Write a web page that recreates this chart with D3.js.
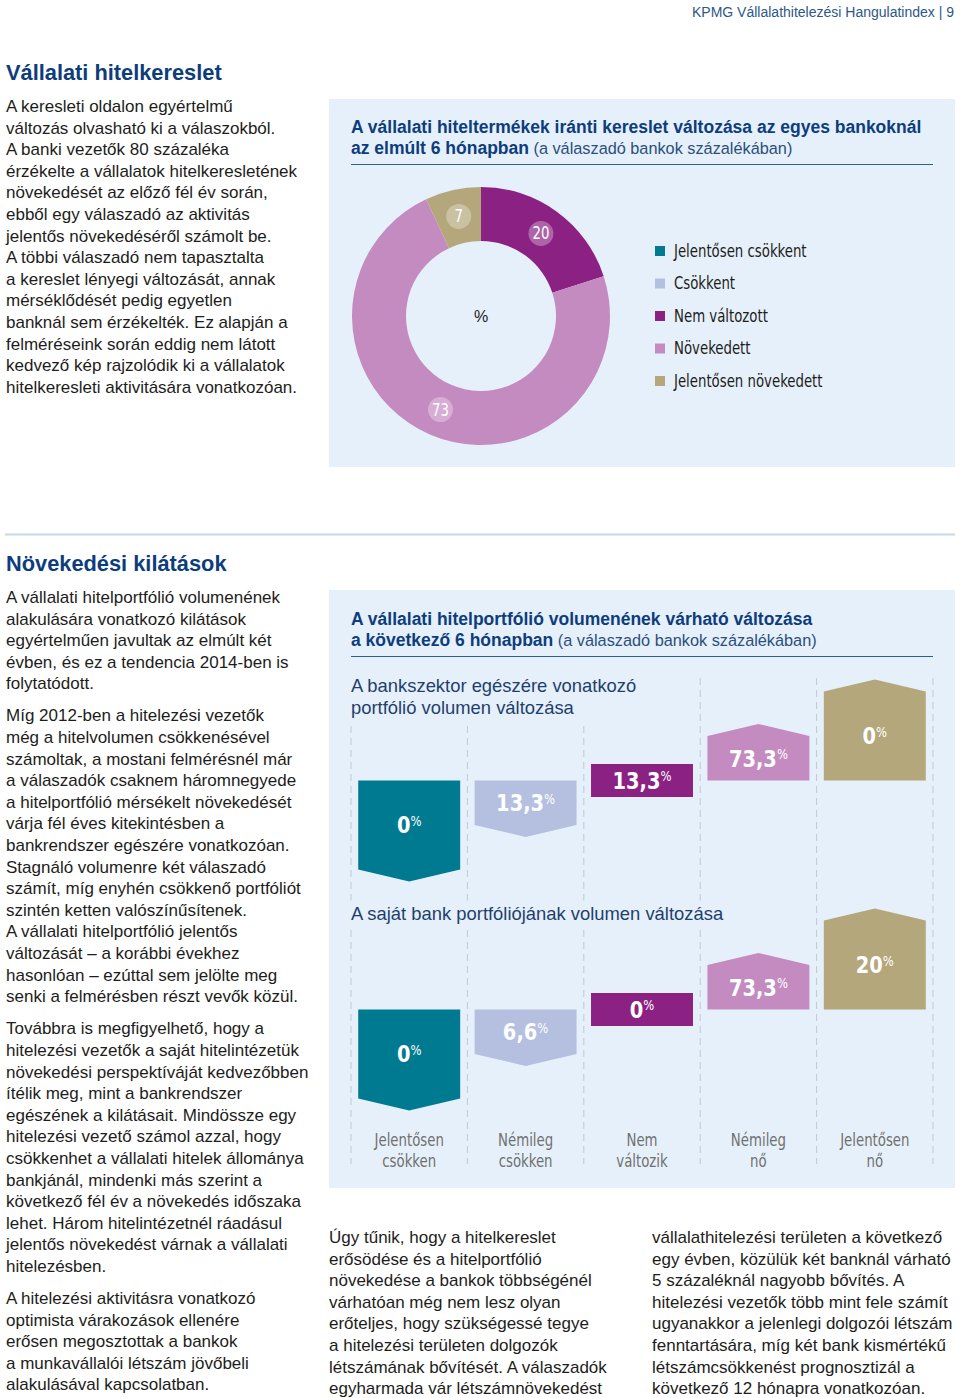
<!DOCTYPE html>
<html><head><meta charset="utf-8">
<script src="https://cdn.jsdelivr.net/npm/d3@7"></script>
<style>
html,body{margin:0;padding:0;background:#fff;}
svg{display:block;}
.body{font-family:"Liberation Sans",Arial,sans-serif;font-size:17px;fill:#1d1d1b;}
.cond{font-family:"Liberation Sans Narrow","DejaVu Sans Condensed","Liberation Sans",sans-serif;font-stretch:condensed;}
</style></head>
<body>
<svg id="c" width="960" height="1398"></svg>
<script>
// ---------- DATA ----------
const donutCategories = ["Jelentősen csökkent","Csökkent","Nem változott","Növekedett","Jelentősen növekedett"];
const donutValues = [0,0,20,73,7];
const barCategories = ["Jelentősen csökken","Némileg csökken","Nem változik","Némileg nő","Jelentősen nő"];
const barLabelLines = [["Jelentősen","csökken"],["Némileg","csökken"],["Nem","változik"],["Némileg","nő"],["Jelentősen","nő"]];
const changeLevel = [-2,-1,0,1,2];
const sectorValues = ["0","13,3","13,3","73,3","0"];
const ownBankValues = ["0","6,6","0","73,3","20"];
const colors = ["#007a91","#b5bfe0","#8b2283","#c48bc0","#b4a77c"];

const para1 = ["A keresleti oldalon egyértelmű","változás olvasható ki a válaszokból.","A banki vezetők 80 százaléka","érzékelte a vállalatok hitelkeresletének","növekedését az előző fél év során,","ebből egy válaszadó az aktivitás","jelentős növekedéséről számolt be.","A többi válaszadó nem tapasztalta","a kereslet lényegi változását, annak","mérséklődését pedig egyetlen","banknál sem érzékelték. Ez alapján a","felméréseink során eddig nem látott","kedvező kép rajzolódik ki a vállalatok","hitelkeresleti aktivitására vonatkozóan."];
const paras2 = [
 ["A vállalati hitelportfólió volumenének","alakulására vonatkozó kilátások","egyértelműen javultak az elmúlt két","évben, és ez a tendencia 2014-ben is","folytatódott."],
 ["Míg 2012-ben a hitelezési vezetők","még a hitelvolumen csökkenésével","számoltak, a mostani felmérésnél már","a válaszadók csaknem háromnegyede","a hitelportfólió mérsékelt növekedését","várja fél éves kitekintésben a","bankrendszer egészére vonatkozóan.","Stagnáló volumenre két válaszadó","számít, míg enyhén csökkenő portfóliót","szintén ketten valószínűsítenek.","A vállalati hitelportfólió jelentős","változását – a korábbi évekhez","hasonlóan – ezúttal sem jelölte meg","senki a felmérésben részt vevők közül."],
 ["Továbbra is megfigyelhető, hogy a","hitelezési vezetők a saját hitelintézetük","növekedési perspektíváját kedvezőbben","ítélik meg, mint a bankrendszer","egészének a kilátásait. Mindössze egy","hitelezési vezető számol azzal, hogy","csökkenhet a vállalati hitelek állománya","bankjánál, mindenki más szerint a","következő fél év a növekedés időszaka","lehet. Három hitelintézetnél ráadásul","jelentős növekedést várnak a vállalati","hitelezésben."],
 ["A hitelezési aktivitásra vonatkozó","optimista várakozások ellenére","erősen megosztottak a bankok","a munkavállalói létszám jövőbeli","alakulásával kapcsolatban."]
];
const colA = ["Úgy tűnik, hogy a hitelkereslet","erősödése és a hitelportfólió","növekedése a bankok többségénél","várhatóan még nem lesz olyan","erőteljes, hogy szükségessé tegye","a hitelezési területen dolgozók","létszámának bővítését. A válaszadók","egyharmada vár létszámnövekedést"];
const colB = ["vállalathitelezési területen a következő","egy évben, közülük két banknál várható","5 százaléknál nagyobb bővítés. A","hitelezési vezetők több mint fele számít","ugyanakkor a jelenlegi dolgozói létszám","fenntartására, míg két bank kismértékű","létszámcsökkenést prognosztizál a","következő 12 hónapra vonatkozóan."];

// ---------- DRAW ----------
const svg = d3.select("#c");
const LH = 21.6;
const navy = "#0d3d7d";
const panelBg = "#e6f0fa";
const SX = 0.87; // horizontal squeeze for condensed labels

function lines(g, arr, x, y0, lh, cls){
  arr.forEach((t,i)=> g.append("text").attr("class",cls||"body").attr("x",x).attr("y",y0+i*lh).attr("dy","0.35em").text(t));
}
function condText(g, x, y, txt, size, fill, anchor){
  return g.append("text").attr("class","cond").attr("transform",`translate(${x},${y}) scale(${SX},1)`)
    .attr("dy","0.35em").attr("text-anchor",anchor||"start").style("font-size",size+"px").style("fill",fill).text(txt);
}

// header
svg.append("text").attr("x",954).attr("y",12).attr("dy","0.35em").attr("text-anchor","end")
  .style("font-family","Liberation Sans,Arial,sans-serif").style("font-size","14px").style("fill","#2d5886")
  .text("KPMG Vállalathitelezési Hangulatindex | 9");

// section titles
function sectionTitle(t,y){
  svg.append("text").attr("x",6).attr("y",y).attr("dy","0.35em")
   .style("font-family","Liberation Sans,Arial,sans-serif").style("font-weight","bold").style("font-size","21.8px").style("fill",navy).text(t);
}
sectionTitle("Vállalati hitelkereslet",72);
sectionTitle("Növekedési kilátások",563);
svg.append("line").attr("x1",5).attr("x2",955).attr("y1",534.5).attr("y2",534.5).attr("stroke","#c9d8e6").attr("stroke-width",2);

// body texts
lines(svg, para1, 6, 106, LH);
let y = 597;
paras2.forEach(p=>{ lines(svg,p,6,y,LH); y += p.length*LH + 10.5; });
lines(svg, colA, 329, 1237, LH);
lines(svg, colB, 652, 1237, LH);

// panels
svg.append("rect").attr("x",329).attr("y",99).attr("width",626).attr("height",368).attr("fill",panelBg);
svg.append("rect").attr("x",329).attr("y",590).attr("width",626).attr("height",598).attr("fill",panelBg);

function panelTitle(bold, rest, y1, lineY){
  svg.append("text").attr("x",351).attr("y",y1).attr("dy","0.35em")
    .style("font-family","Liberation Sans,Arial,sans-serif").style("font-size","17.5px").style("fill",navy).style("font-weight","bold").text(bold[0]);
  const t2 = svg.append("text").attr("x",351).attr("y",y1+21.5).attr("dy","0.35em")
    .style("font-family","Liberation Sans,Arial,sans-serif").style("fill",navy);
  t2.append("tspan").style("font-weight","bold").style("font-size","17.5px").text(bold[1]);
  t2.append("tspan").style("fill","#2a4f7c").style("font-size","16.3px").text(" "+rest);
  svg.append("line").attr("x1",351).attr("x2",933).attr("y1",lineY).attr("y2",lineY).attr("stroke","#2f5f91").attr("stroke-width",1.2);
}
panelTitle(["A vállalati hiteltermékek iránti kereslet változása az egyes bankoknál","az elmúlt 6 hónapban"],"(a válaszadó bankok százalékában)",127,164.5);
panelTitle(["A vállalati hitelportfólió volumenének várható változása","a következő 6 hónapban"],"(a válaszadó bankok százalékában)",619,656.5);

// donut
const cx=481, cy=316, rOut=129, rIn=75;
const pie = d3.pie().sort(null).value(d=>d.v);
const arcs = pie(donutValues.map((v,i)=>({v, c:colors[i], name:donutCategories[i]})));
const arc = d3.arc().innerRadius(rIn).outerRadius(rOut);
const dg = svg.append("g").attr("transform",`translate(${cx},${cy})`);
dg.selectAll("path").data(arcs.filter(a=>a.data.v>0)).join("path").attr("d",arc).attr("fill",d=>d.data.c);
const lab = dg.selectAll("g.l").data(arcs.filter(a=>a.data.v>0)).join("g").attr("class","l")
  .attr("transform",d=>`translate(${arc.centroid(d)})`);
lab.append("circle").attr("r",12.5).attr("fill","#fff").attr("fill-opacity",0.3);
lab.each(function(d){ condText(d3.select(this),0,0,d.data.v,17,"#fff","middle"); });
dg.append("text").attr("text-anchor","middle").attr("dy","0.35em").style("font-family","Liberation Sans,sans-serif").style("font-size","16px").style("fill","#222").text("%");

// legend
const lg = svg.append("g");
donutCategories.forEach((n,i)=>{
  const yy = 251 + i*32.5;
  lg.append("rect").attr("x",655).attr("y",yy-5).attr("width",10).attr("height",10).attr("fill",colors[i]);
  condText(lg, 674, yy, n, 17, "#1d1d1b");
});

// bar charts
const x = d3.scaleBand().domain(barCategories).range([351,933]).paddingInner(0.124).paddingOuter(0.062);
const step = x.step();
const bounds = d3.range(barCategories.length+1).map(i=> 351 + i*step);
const lvl = d3.scaleLinear().domain([-2,2]).range([89,-89]); // offset from baseline
const neutralH = 33, tipH = 12;

const bg = svg.append("g");
bounds.forEach(bx=> bg.append("line").attr("x1",bx).attr("x2",bx).attr("y1",678).attr("y2",1164)
   .attr("stroke","#bfc8d3").attr("stroke-width",1).attr("stroke-dasharray","7,5"));

function subtitle(linesArr, y0){
  const g = svg.append("g");
  const r = g.append("rect").attr("fill",panelBg);
  linesArr.forEach((t,i)=> g.append("text").attr("x",351).attr("y",y0+i*21.5).attr("dy","0.35em")
     .style("font-family","Liberation Sans,Arial,sans-serif").style("font-size","18.4px").style("fill","#1f3f6d").text(t));
  const bb = g.node().getBBox();
  r.attr("x",bb.x-2).attr("y",bb.y-3).attr("width",bb.width+4).attr("height",bb.height+6);
}
subtitle(["A bankszektor egészére vonatkozó","portfólió volumen változása"],686);
subtitle(["A saját bank portfóliójának volumen változása"],914);

function shapePath(l, x0, w, base){
  const xm = x0 + w/2;
  if (l === 0) return `M${x0},${base-neutralH/2}H${x0+w}V${base+neutralH/2}H${x0}Z`;
  const off = lvl(l);
  if (l < 0) return `M${x0},${base}H${x0+w}V${base+off}L${xm},${base+off+tipH}L${x0},${base+off}Z`;
  return `M${x0},${base}V${base+off}L${xm},${base+off-tipH}L${x0+w},${base+off}V${base}Z`;
}
function barChart(values, base){
  const g = svg.append("g");
  barCategories.forEach((c,i)=>{
    const l = changeLevel[i], x0 = x(c), w = x.bandwidth();
    g.append("path").attr("d",shapePath(l,x0,w,base)).attr("fill",colors[i]);
    const ly = l===0 ? base : base + lvl(l)/2;
    const t = g.append("text").attr("class","cond").attr("transform",`translate(${x0+w/2},${ly}) scale(0.92,1)`).attr("dy","0.36em")
      .attr("text-anchor","middle").style("font-weight","bold").style("font-size","23.5px").style("fill","#fff");
    t.append("tspan").text(values[i]);
    t.append("tspan").attr("dy","-0.55em").style("font-size","14px").style("font-weight","normal").text("%");
  });
}
barChart(sectorValues, 780.5);
barChart(ownBankValues, 1009.5);

// category labels
barCategories.forEach((c,i)=>{
  barLabelLines[i].forEach((t,j)=> condText(svg, x(c)+x.bandwidth()/2, 1140+j*21.5, t, 17, "#707070", "middle"));
});
</script>
</body></html>
